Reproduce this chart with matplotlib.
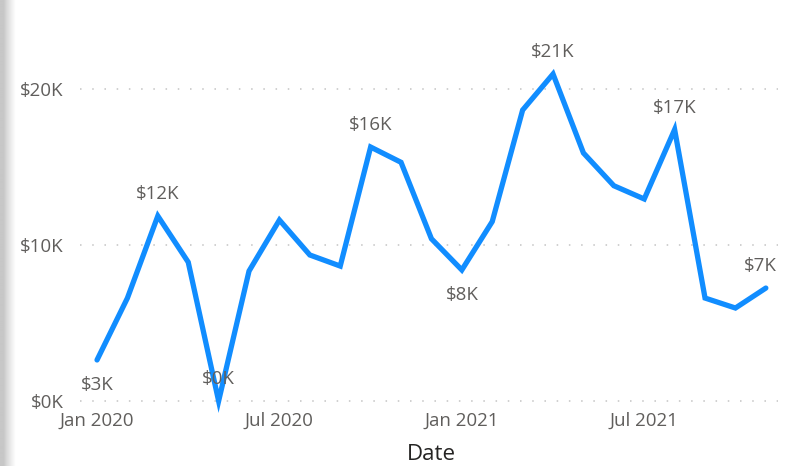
import matplotlib
matplotlib.use("Agg")
import matplotlib.pyplot as plt
import numpy as np

months = ["Jan 2020","Feb 2020","Mar 2020","Apr 2020","May 2020","Jun 2020",
          "Jul 2020","Aug 2020","Sep 2020","Oct 2020","Nov 2020","Dec 2020",
          "Jan 2021","Feb 2021","Mar 2021","Apr 2021","May 2021","Jun 2021",
          "Jul 2021","Aug 2021","Sep 2021","Oct 2021","Nov 2021"]
values_k = [2.63, 6.6, 11.86, 8.9, 0.0, 8.33, 11.6, 9.36, 8.65, 16.28, 15.3, 10.4,
            8.4, 11.5, 18.65, 20.96, 15.9, 13.8, 12.95, 17.4, 6.6, 5.96, 7.24]
label_idx = [0, 2, 4, 9, 12, 15, 19, 22]
label_pos = ["below", "above", "above", "above", "below", "above", "above", "above"]
xtick_idx = [0, 6, 12, 18]
xtick_labels = ["Jan 2020", "Jul 2020", "Jan 2021", "Jul 2021"]
ytick_vals = [0, 10, 20]
ytick_labels = ["$0K", "$10K", "$20K"]

plt.rcParams['font.family'] = ['Open Sans', 'DejaVu Sans']

W, H = 802, 466
fig = plt.figure(figsize=(W/100, H/100), dpi=100)
fig.patch.set_facecolor("white")

# left shadow
sax = fig.add_axes([0, 0, 16/W, 1])
grad = np.linspace(0, 1, 64)
shade = 0.78 + 0.22 * np.clip((grad - 0.25) / 0.75, 0, 1) ** 0.8
img = np.tile(shade, (10, 1))
sax.imshow(img, cmap="gray", vmin=0, vmax=1, aspect="auto", extent=[0, 1, 0, 1])
sax.axis("off")

ax = fig.add_axes([80/W, 56/H, 698/W, 360/H])
x = np.arange(len(values_k))
ax.set_xlim(-0.56, 22.4)
ax.set_ylim(-9/15.6, 351/15.6)

for v in ytick_vals:
    ax.axhline(v, color="#c4c4c4", lw=1.1, linestyle=(0, (1, 7)), zorder=1)

ax.plot(x, values_k, color="#118DFF", lw=3.8, solid_joinstyle="miter",
        solid_capstyle="round", zorder=3, clip_on=False)

for i, pos in zip(label_idx, label_pos):
    dy = -25 if pos == "below" else 22
    dx = -6 if i == 22 else 0
    ax.annotate(f"${round(values_k[i]):.0f}K", (x[i], values_k[i]),
                xytext=(dx, dy), textcoords="offset pixels",
                ha="center", va="center", fontsize=13.5, color="#605E5C", zorder=4)

ax.set_xticks(xtick_idx)
ax.set_xticklabels(xtick_labels)
ax.set_yticks(ytick_vals)
ax.set_yticklabels(ytick_labels)
ax.tick_params(length=0, labelsize=13.5, labelcolor="#605E5C")
ax.tick_params(axis="y", pad=12)
ax.tick_params(axis="x", pad=1)
for s in ax.spines.values():
    s.set_visible(False)
ax.set_facecolor("none")

fig.text(431/W, 1 - 455/H, "Date", ha="center", va="center", fontsize=16,
         color="#252423")

fig.savefig("out.png", dpi=100)
